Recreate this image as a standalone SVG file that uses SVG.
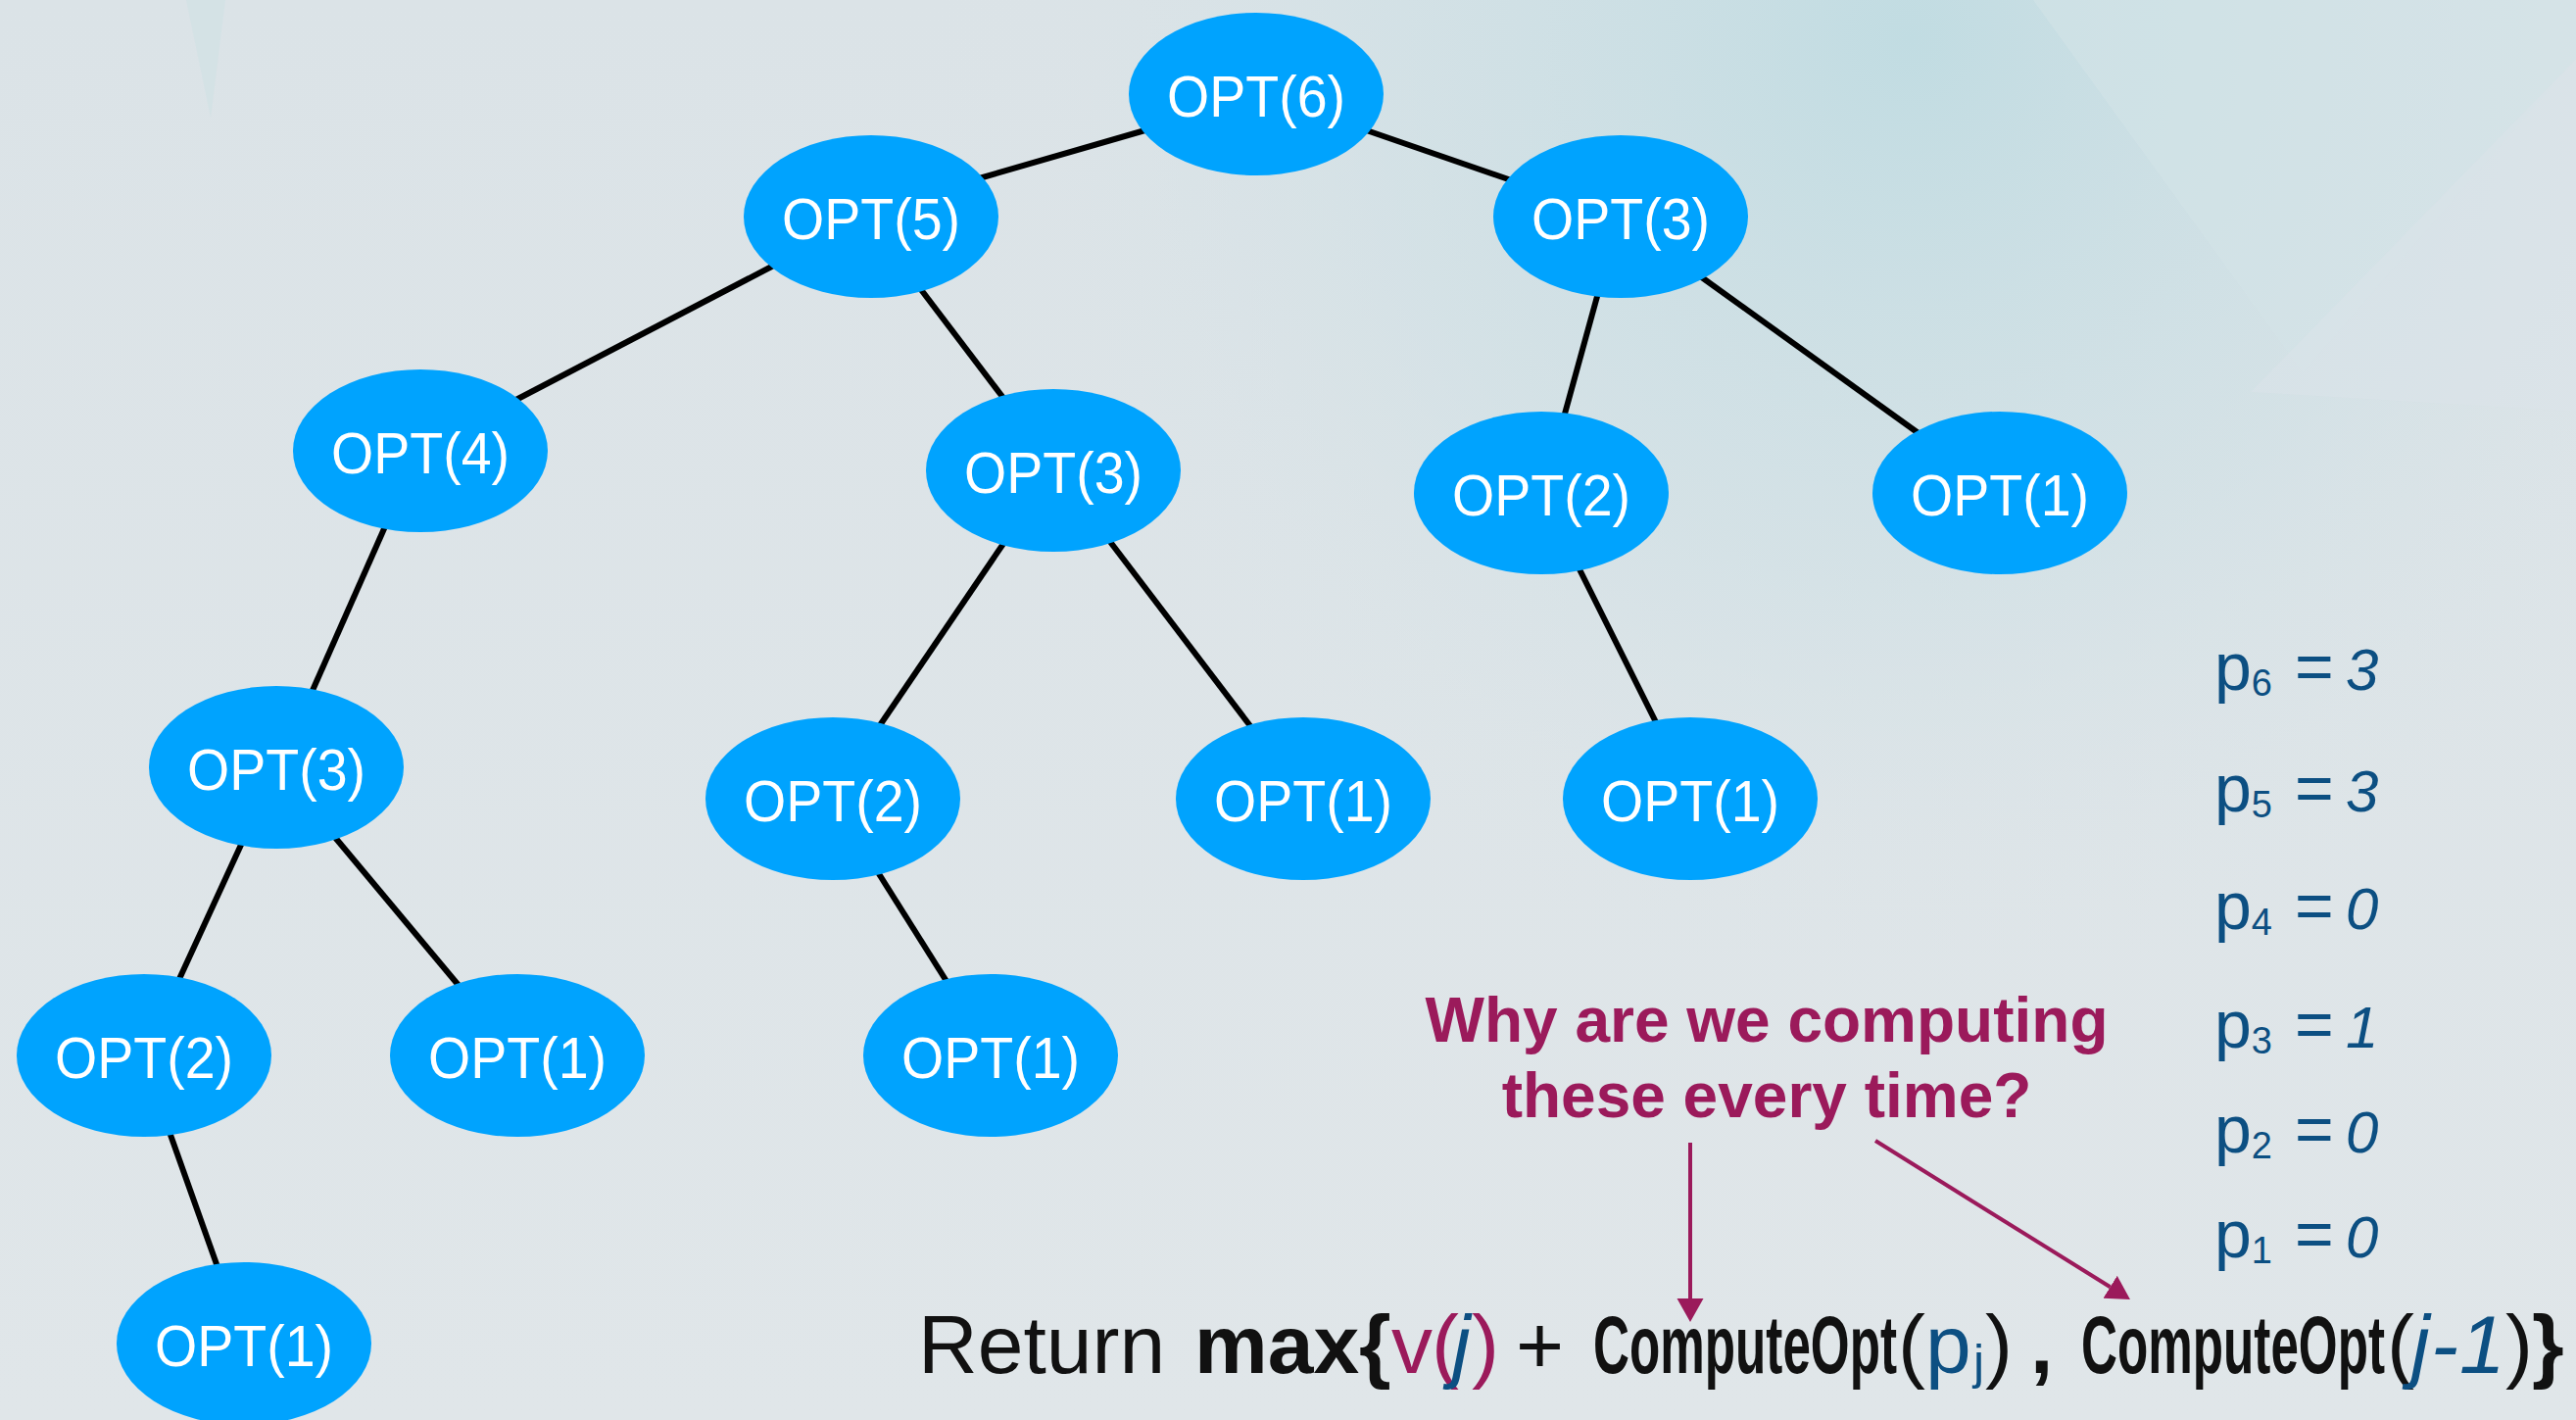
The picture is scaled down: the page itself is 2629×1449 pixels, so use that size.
<svg xmlns="http://www.w3.org/2000/svg" width="2629" height="1449" viewBox="0 0 2629 1449">
  <style>
    .node ellipse { fill: #00a3fe; }
    .node text { font-family: "Liberation Sans", Arial, sans-serif; font-size: 60px; fill: #ffffff; text-anchor: middle; }
    .edges line { stroke: #000000; stroke-width: 6; }
    .note { font-family: "Liberation Sans", Arial, sans-serif; font-size: 64px; font-weight: bold; fill: #9b1a5b; text-anchor: middle; }
    .ptr line { stroke: #9b1a5b; stroke-width: 4; }
    .f { font-family: "Liberation Sans", Arial, sans-serif; font-size: 84px; fill: #111111; }
    .b { font-weight: bold; }
    .i { font-style: italic; }
    .mar { fill: #9b1a5b; }
    .blu { fill: #0c4f82; }
    .pl { font-family: "Liberation Sans", Arial, sans-serif; fill: #0c4f82; }
  </style>
  <defs>
    <radialGradient id="teal" cx="1950" cy="40" r="1000" gradientUnits="userSpaceOnUse">
      <stop offset="0" stop-color="#c1dce2" stop-opacity="1"/>
      <stop offset="0.55" stop-color="#cfe0e5" stop-opacity="0.6"/>
      <stop offset="1" stop-color="#dfe5e8" stop-opacity="0"/>
    </radialGradient>
    <linearGradient id="base" x1="0" y1="0" x2="0" y2="1">
      <stop offset="0" stop-color="#dbe3e7"/>
      <stop offset="1" stop-color="#e0e6e9"/>
    </linearGradient>
    <marker id="head" markerUnits="userSpaceOnUse" markerWidth="26" markerHeight="28" refX="0" refY="13.5" orient="auto">
      <path d="M0,0 L24,13.5 L0,27 Z" fill="#9b1a5b"/>
    </marker>
  </defs>

  <!-- backdrop -->
  <rect width="2629" height="1449" fill="url(#base)"/>
  <rect width="2629" height="1449" fill="url(#teal)"/>
  <polygon points="2075,0 2629,0 2629,60 2350,380" fill="#d4e3e7" opacity="0.55"/>
  <polygon points="2629,60 2629,420 2297,400" fill="#dce4e9" opacity="0.5"/>
  <polygon points="190,0 230,0 215,120" fill="#cfe1e5" opacity="0.6"/>

  <!-- tree edges -->
  <g id="edges" class="edges">
    <line x1="1179" y1="130" x2="989" y2="185"/>
    <line x1="1383" y1="129" x2="1554" y2="188"/>
    <line x1="799" y1="266" x2="517" y2="413"/>
    <line x1="932" y1="285" x2="1030" y2="414"/>
    <line x1="1634" y1="288" x2="1594" y2="433"/>
    <line x1="1727" y1="276" x2="1969" y2="450"/>
    <line x1="398" y1="526" x2="313" y2="718"/>
    <line x1="1032" y1="543" x2="894" y2="746"/>
    <line x1="1124" y1="541" x2="1283" y2="750"/>
    <line x1="1606" y1="569" x2="1695" y2="747"/>
    <line x1="252" y1="849" x2="177" y2="1012"/>
    <line x1="334" y1="845" x2="476" y2="1015"/>
    <line x1="889" y1="879" x2="974" y2="1014"/>
    <line x1="169" y1="1144" x2="226" y2="1304"/>
  </g>

  <!-- tree nodes -->
  <g id="n6" class="node"><ellipse cx="1282" cy="96" rx="130" ry="83"/><text x="1282" y="119" textLength="182" lengthAdjust="spacingAndGlyphs">OPT(6)</text></g>
  <g id="n5" class="node"><ellipse cx="889" cy="221" rx="130" ry="83"/><text x="889" y="244" textLength="182" lengthAdjust="spacingAndGlyphs">OPT(5)</text></g>
  <g id="n3a" class="node"><ellipse cx="1654" cy="221" rx="130" ry="83"/><text x="1654" y="244" textLength="182" lengthAdjust="spacingAndGlyphs">OPT(3)</text></g>
  <g id="n4" class="node"><ellipse cx="429" cy="460" rx="130" ry="83"/><text x="429" y="483" textLength="182" lengthAdjust="spacingAndGlyphs">OPT(4)</text></g>
  <g id="n3b" class="node"><ellipse cx="1075" cy="480" rx="130" ry="83"/><text x="1075" y="503" textLength="182" lengthAdjust="spacingAndGlyphs">OPT(3)</text></g>
  <g id="n2a" class="node"><ellipse cx="1573" cy="503" rx="130" ry="83"/><text x="1573" y="526" textLength="182" lengthAdjust="spacingAndGlyphs">OPT(2)</text></g>
  <g id="n1a" class="node"><ellipse cx="2041" cy="503" rx="130" ry="83"/><text x="2041" y="526" textLength="182" lengthAdjust="spacingAndGlyphs">OPT(1)</text></g>
  <g id="n3c" class="node"><ellipse cx="282" cy="783" rx="130" ry="83"/><text x="282" y="806" textLength="182" lengthAdjust="spacingAndGlyphs">OPT(3)</text></g>
  <g id="n2b" class="node"><ellipse cx="850" cy="815" rx="130" ry="83"/><text x="850" y="838" textLength="182" lengthAdjust="spacingAndGlyphs">OPT(2)</text></g>
  <g id="n1b" class="node"><ellipse cx="1330" cy="815" rx="130" ry="83"/><text x="1330" y="838" textLength="182" lengthAdjust="spacingAndGlyphs">OPT(1)</text></g>
  <g id="n1c" class="node"><ellipse cx="1725" cy="815" rx="130" ry="83"/><text x="1725" y="838" textLength="182" lengthAdjust="spacingAndGlyphs">OPT(1)</text></g>
  <g id="n2c" class="node"><ellipse cx="147" cy="1077" rx="130" ry="83"/><text x="147" y="1100" textLength="182" lengthAdjust="spacingAndGlyphs">OPT(2)</text></g>
  <g id="n1d" class="node"><ellipse cx="528" cy="1077" rx="130" ry="83"/><text x="528" y="1100" textLength="182" lengthAdjust="spacingAndGlyphs">OPT(1)</text></g>
  <g id="n1e" class="node"><ellipse cx="1011" cy="1077" rx="130" ry="83"/><text x="1011" y="1100" textLength="182" lengthAdjust="spacingAndGlyphs">OPT(1)</text></g>
  <g id="n1f" class="node"><ellipse cx="249" cy="1371" rx="130" ry="83"/><text x="249" y="1394" textLength="182" lengthAdjust="spacingAndGlyphs">OPT(1)</text></g>

  <!-- predecessor table -->
  <g id="ptable" class="pl">
    <text x="2260" y="704" font-size="68">p<tspan font-size="38" dy="6">6</tspan><tspan x="2342" dy="-6">=</tspan><tspan x="2394" class="i" font-size="60">3</tspan></text>
    <text x="2260" y="828" font-size="68">p<tspan font-size="38" dy="6">5</tspan><tspan x="2342" dy="-6">=</tspan><tspan x="2394" class="i" font-size="60">3</tspan></text>
    <text x="2260" y="948" font-size="68">p<tspan font-size="38" dy="6">4</tspan><tspan x="2342" dy="-6">=</tspan><tspan x="2394" class="i" font-size="60">0</tspan></text>
    <text x="2260" y="1069" font-size="68">p<tspan font-size="38" dy="6">3</tspan><tspan x="2342" dy="-6">=</tspan><tspan x="2394" class="i" font-size="60">1</tspan></text>
    <text x="2260" y="1176" font-size="68">p<tspan font-size="38" dy="6">2</tspan><tspan x="2342" dy="-6">=</tspan><tspan x="2394" class="i" font-size="60">0</tspan></text>
    <text x="2260" y="1283" font-size="68">p<tspan font-size="38" dy="6">1</tspan><tspan x="2342" dy="-6">=</tspan><tspan x="2394" class="i" font-size="60">0</tspan></text>
  </g>

  <!-- question and pointers -->
  <g id="question">
    <text class="note" x="1803" y="1063">Why are we computing</text>
    <text class="note" x="1803" y="1140">these every time?</text>
  </g>
  <g id="pointers" class="ptr">
    <line x1="1725" y1="1166" x2="1725" y2="1325" marker-end="url(#head)"/>
    <line x1="1914" y1="1164" x2="2153.6" y2="1313.3" marker-end="url(#head)"/>
  </g>

  <!-- recurrence line -->
  <g id="formula">
    <text class="f" x="937" y="1401">Return<tspan x="1219" class="b">max{</tspan><tspan x="1420" class="mar">v</tspan><tspan x="1461" class="mar">(</tspan><tspan x="1482" class="blu i">j</tspan><tspan x="1502" class="mar">)</tspan><tspan x="1547">+</tspan><tspan x="1626" class="b" textLength="310" lengthAdjust="spacingAndGlyphs">ComputeOpt</tspan><tspan x="1937">(</tspan><tspan x="1965" class="blu">p</tspan><tspan x="2014" dy="6" class="blu" font-size="50">j</tspan><tspan x="2026" dy="-6">)</tspan><tspan x="2072" class="b">,</tspan><tspan x="2124" class="b" textLength="310" lengthAdjust="spacingAndGlyphs">ComputeOpt</tspan><tspan x="2436">(</tspan><tspan x="2461" class="blu i">j</tspan><tspan x="2481" class="blu i">-</tspan><tspan x="2510" class="blu i">1</tspan><tspan x="2557">)</tspan><tspan x="2584" class="b">}</tspan></text>
  </g>
</svg>
